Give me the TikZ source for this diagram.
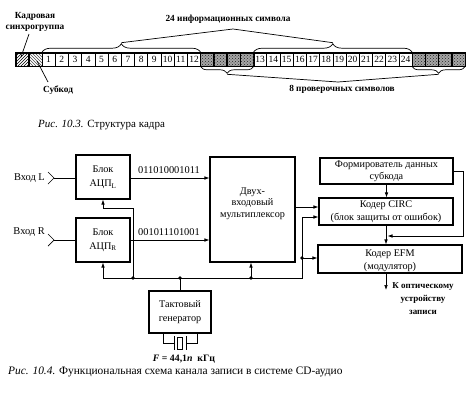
\documentclass[tikz,border=0pt]{standalone}
\usepackage{fontspec}
\setmainfont{Liberation Serif}
\usetikzlibrary{arrows.meta,patterns,decorations.pathreplacing,calc}
\begin{document}
\begin{tikzpicture}[x=1pt,y=-1pt,
  box/.style={draw, line width=1.1pt, align=center, inner sep=0pt, font=\fontsize{10.2}{13}\selectfont},
  wire/.style={line width=0.7pt},
  arr/.style={wire, -{Latex[length=5pt,width=3.6pt]}},
  lbl/.style={font=\fontsize{10.4}{12}\selectfont, inner sep=0pt},
  blbl/.style={font=\fontsize{9.3}{11}\selectfont\bfseries, inner sep=0pt, align=center},
  dot/.style={circle, fill, inner sep=0pt, minimum size=3.6pt},
  cell/.style={draw, line width=0.6pt, minimum width=13.22pt, minimum height=13pt, inner sep=0pt, font=\fontsize{9.5}{10}\selectfont},
  hcell/.style={draw, line width=0.6pt, minimum width=13.22pt, minimum height=13pt, inner sep=0pt},
  tbrace/.style={wire, decorate, decoration={brace, amplitude=9pt}},
  bbrace/.style={wire, decorate, decoration={brace, amplitude=7pt}}
]
\useasboundingbox (0,0) rectangle (474,402);

% ---------- Fig 10.3 ----------
\node[hcell, minimum width=13pt, fill=black!25, pattern=north east lines] (sync) at (22.5,59.5) {};
\node[hcell, minimum width=13pt, pattern=north west lines, pattern color=black!70] (subc) at (35.5,59.5) {};
\draw[line width=0.6pt] (sync.north west) rectangle (sync.south east);
\draw[line width=0.6pt] (subc.north west) rectangle (subc.south east);
\foreach \i in {1,...,12} \node[cell] (c\i) at ({42+(\i-0.5)*13.22}, 59.5) {\i};
\foreach \i in {13,...,24} \node[cell] (c\i) at ({42+(\i+3.5)*13.22}, 59.5) {\i};
\foreach \k in {1,...,4} {
  \node[hcell, fill=black!35] (pa\k) at ({42+(11.5+\k)*13.22}, 59.5) {};
  \fill[pattern=crosshatch dots, pattern color=black!85] (pa\k.north west) rectangle (pa\k.south east);
  \draw[line width=0.6pt] (pa\k.north west) rectangle (pa\k.south east);
  \node[hcell, fill=black!35] (pb\k) at ({42+(27.5+\k)*13.22}, 59.5) {};
  \fill[pattern=crosshatch dots, pattern color=black!85] (pb\k.north west) rectangle (pb\k.south east);
  \draw[line width=0.6pt] (pb\k.north west) rectangle (pb\k.south east);
}
\draw[line width=1pt] (sync.north west) rectangle (pb4.south east);

\node[blbl] (synclbl) at (35,22) {Кадровая\\синхрогруппа};
\draw[wire] (29,34) -- (21,57);
\node[blbl] (subclbl) at (58,90) {Субкод};
\draw[wire] (37,61) -- (48,82);

\node[blbl] (infolbl) at (228,19) {24 информационных символа};
\draw[tbrace] (c1.north west) -- (c12.north east);
\draw[tbrace] (c13.north west) -- (c24.north east);
\coordinate (pk1) at ($(c1.north west)!0.5!(c12.north east)+(0,-10)$);
\coordinate (pk2) at ($(c13.north west)!0.5!(c24.north east)+(0,-10)$);
\coordinate (im) at (233,29);
\draw[wire] (pk1) -- (im) -- (pk2);

\node[blbl] (parlbl) at (342,89) {8 проверочных символов};
\draw[bbrace] (pa4.south east) -- (pa1.south west);
\draw[bbrace] (pb4.south east) -- (pb1.south west);
\coordinate (pk3) at ($(pa1.south west)!0.5!(pa4.south east)+(0,8)$);
\coordinate (pk4) at ($(pb1.south west)!0.5!(pb4.south east)+(0,8)$);
\coordinate (pm) at (338,82);
\draw[wire] (pk3) -- (pm) -- (pk4);

\node[lbl, font=\fontsize{11}{12}\selectfont, anchor=west] (cap1) at (38,125) {\textit{Рис. 10.3.} Структура кадра};

% ---------- Fig 10.4 ----------
\node[box, minimum width=54pt, minimum height=44pt, font=\fontsize{10.2}{14.5}\selectfont] (adcL) at (103,177) {Блок\\АЦП\textsubscript{L}};
\node[box, minimum width=54pt, minimum height=44pt, font=\fontsize{10.2}{14}\selectfont] (adcR) at (103,240) {Блок\\АЦП\textsubscript{R}};
\node[box, minimum width=85pt, minimum height=105pt] (mux) at (252.5,209.5) {};
\node[lbl, align=center, font=\fontsize{10.2}{11.5}\selectfont] (muxt) at (252.5,203.5) {Двух-\\входовый\\мультиплексор};
\node[box, minimum width=133pt, minimum height=26pt, font=\fontsize{10.2}{12}\selectfont] (sub) at (386.5,171) {Формирователь данных\\субкода};
\node[box, minimum width=134pt, minimum height=27pt] (circ) at (386,211.5) {Кодер CIRC\\(блок защиты от ошибок)};
\node[box, minimum width=144pt, minimum height=28pt] (efm) at (390,259) {};
\node[lbl, align=center, font=\fontsize{10.2}{13}\selectfont] (efmt) at (390,261) {Кодер EFM\\(модулятор)};
\node[box, minimum width=62pt, minimum height=42pt, font=\fontsize{10.2}{14}\selectfont] (gen) at (180,312) {Тактовый\\генератор};

% inputs
\node[lbl, anchor=east] (inLl) at (45,178) {Вход L};
\node[lbl, anchor=east] (inRl) at (45,232) {Вход R};
\coordinate (inL) at (54,178);
\coordinate (inR) at (54,240);
\draw[wire] ($(inL)+(-6,-6)$) -- (inL) -- ($(inL)+(-6,6)$);
\draw[wire] ($(inR)+(-6,-6)$) -- (inR) -- ($(inR)+(-6,6)$);
\draw[wire] (inL) -- (inL -| adcL.west);
\draw[wire] (inR) -- (inR -| adcR.west);

% data lines
\draw[arr] (adcL.east |- inL) -- (inL -| mux.west);
\draw[arr] (adcR.east |- inR) -- (inR -| mux.west);
\node[lbl] (dL) at (169,170) {011010001011};
\node[lbl] (dR) at (169,232) {001011101001};

\coordinate (mo) at (295,207);
\draw[arr] (mo) -- (mo -| circ.west);

% clock bus
\coordinate (b0) at (103,278);
\coordinate (j1) at (133,278);
\coordinate (j2) at (180,278);
\coordinate (j3) at (251,278);
\coordinate (b1) at (302,278);
\coordinate (j4) at (302,258);
\coordinate (ck) at (302,217);
\draw[wire] (b0) -- (b1) -- (ck);
\draw[arr] (ck) -- (ck -| circ.west);
\draw[arr] (b0) -- (adcR.south);
\draw[arr] (j1) -- (133,208) -- (103,208) -- (adcL.south);
\draw[wire] (j2) -- (gen.north);
\draw[arr] (j3) -- (j3 |- mux.south);
\draw[arr] (j4) -- (j4 -| efm.west);
\foreach \p in {j1,j2,j3,j4} \node[dot] at (\p) {};

% right chain
\draw[arr] (sub.south) -- (sub.south |- circ.north);
\draw[arr] (circ.south) -- (circ.south |- efm.north);
\coordinate (s1) at (463,236);
\draw[arr] (sub.east) -| (s1) -- ($(s1 -| circ.south)+(1.5,0)$);
\coordinate (out) at (386,290);
\draw[arr] (efm.south -| out) -- (out);
\node[blbl, font=\fontsize{9}{13}\selectfont\bfseries] (outl) at (423,299) {К оптическому\\устройству\\записи};

% crystal
\coordinate (xl) at (174,343);
\coordinate (xr) at (186,343);
\draw[wire] (gen.south -| 163,0) -- (163,343) -- (xl);
\draw[wire] (gen.south -| 197,0) -- (197,343) -- (xr);
\draw[line width=0.9pt] (174,336) -- (174,350);
\draw[line width=0.9pt] (186,336) -- (186,350);
\draw[line width=0.8pt] (177.3,337) rectangle (182.7,349);
\node[blbl, font=\fontsize{9.8}{11}\selectfont\bfseries] (freq) at (184,359) {\textit{F} = 44,1\textit{n}\ \ кГц};

\node[lbl, font=\fontsize{11.4}{12}\selectfont, anchor=west] (cap2) at (8,372) {\textit{Рис. 10.4.} Функциональная схема канала записи в системе CD-аудио};
\end{tikzpicture}
\end{document}
